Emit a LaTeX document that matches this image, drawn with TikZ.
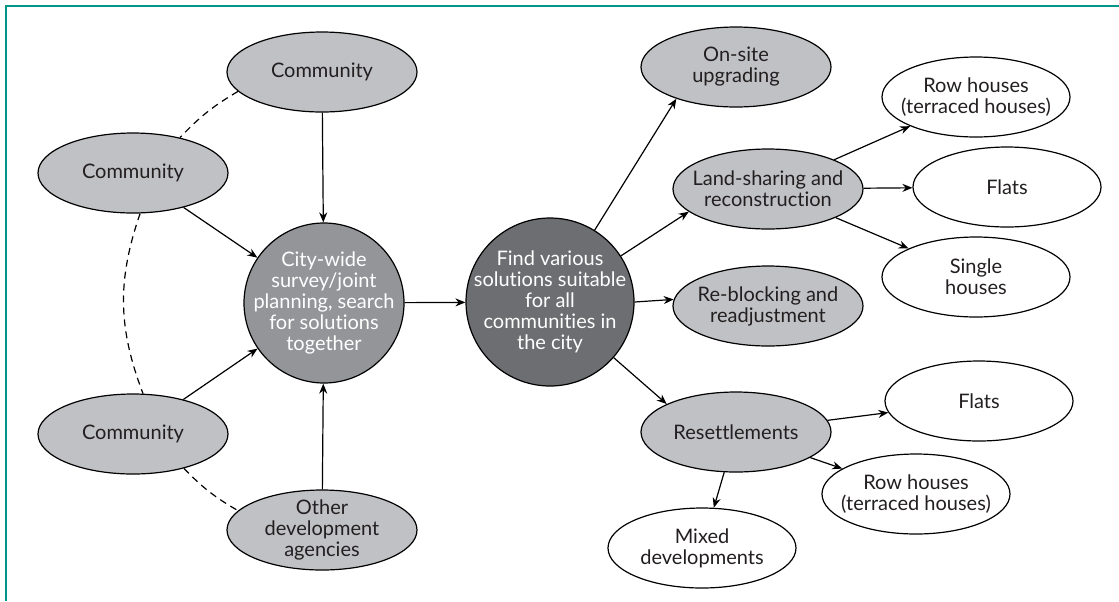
\documentclass[tikz,border=0pt]{standalone}
\usepackage{fontspec}
\setmainfont{Lato}[Ligatures={NoCommon}]
\usetikzlibrary{arrows.meta,shapes.geometric,positioning}
\definecolor{framegreen}{RGB}{0,150,136}
\definecolor{lightgrey}{RGB}{192,193,196}
\definecolor{midgrey}{RGB}{147,149,152}
\definecolor{darkgrey}{RGB}{109,110,113}
\definecolor{inkgrey}{RGB}{35,31,32}

\tikzset{
  txt/.style={text=inkgrey, align=center, font=\fontsize{10}{10.5}\selectfont},
  wtxt/.style={text=white, align=center, font=\fontsize{10}{10.5}\selectfont},
  soft/.style={ellipse, draw=black, line width=0.6pt, fill=lightgrey, minimum width=95pt, minimum height=40pt, inner sep=0pt},
  leaf/.style={soft, fill=white, minimum width=94pt},
  hub/.style={circle, draw=black, line width=0.6pt, inner sep=0pt},
  arr/.style={-{Stealth[length=5pt,width=4pt]}, line width=0.6pt, black},
  dotline/.style={line width=0.6pt, dash pattern=on 3.5pt off 2.5pt},
}

\begin{document}
\begin{tikzpicture}[x=0.5pt,y=-0.5pt]
\useasboundingbox (0,0) rectangle (1119,601);
\draw[framegreen,line width=1pt] (1119,6) -- (6,6) -- (6,601);
\node[soft,label={[txt]center:Community}](ctop) at (322,72){};
\node[soft,label={[txt]center:Community}](cup) at (133,173){};
\node[soft,label={[txt]center:Community}](clow) at (133,434){};
\node[soft,label={[txt]center:{Other\\development\\agencies}}](other) at (322,530){};
\node[hub,fill=midgrey,minimum size=80pt,label={[wtxt]center:{City-wide\\survey/joint\\planning, search\\for solutions\\together}}](city) at (324,303){};
\node[hub,fill=darkgrey,minimum size=84pt,label={[wtxt]center:{Find various\\solutions suitable\\for all\\communities in\\the city}}](find) at (550,302){};
\node[soft,label={[txt]center:{On-site\\upgrading}}](onsite) at (736,67){};
\node[soft,label={[txt]center:{Land-sharing and\\reconstruction}}](land) at (768,189){};
\node[soft,label={[txt]center:{Re-blocking and\\readjustment}}](reblock) at (768,306){};
\node[soft,label={[txt]center:Resettlements}](resettle) at (736,432){};
\node[leaf,label={[txt]center:{Row houses\\(terraced houses)}}](rowtop) at (976,97){};
\node[leaf,label={[txt]center:Flats}](flatstop) at (1007,187){};
\node[leaf,label={[txt]center:{Single\\houses}}](single) at (976,277){};
\node[leaf,label={[txt]center:Flats}](flatsbot) at (979,401){};
\node[leaf,label={[txt]center:{Row houses\\(terraced houses)}}](rowbot) at (916,494){};
\node[leaf,label={[txt]center:{Mixed\\developments}}](mixed) at (702,548){};
% dashed ring round the city
\draw[dotline] (ctop.193) to[bend right=8] (cup.37);
\draw[dotline] (cup.280) to[bend right=20] (clow.76);
\draw[dotline] (clow.326) to[bend right=8] (other.167);
% into the survey
\draw (ctop) edge[arr] (city);
\draw (cup) edge[arr] (city);
\draw (clow) edge[arr] (city);
\draw (other) edge[arr] (city);
\draw (city) edge[arr] (find);
% solutions
\draw (find) edge[arr] (onsite.208);
\draw (find) edge[arr] (land.196);
\draw (find.east) edge[arr] (reblock.176);
\draw (find) edge[arr] (resettle.158);
\draw (land) edge[arr] (rowtop);
\draw (land) edge[arr] (flatstop);
\draw (land) edge[arr] (single);
\draw (resettle) edge[arr] (flatsbot);
\draw (resettle) edge[arr] (rowbot);
\draw (resettle) edge[arr] (mixed);
\end{tikzpicture}
\end{document}
